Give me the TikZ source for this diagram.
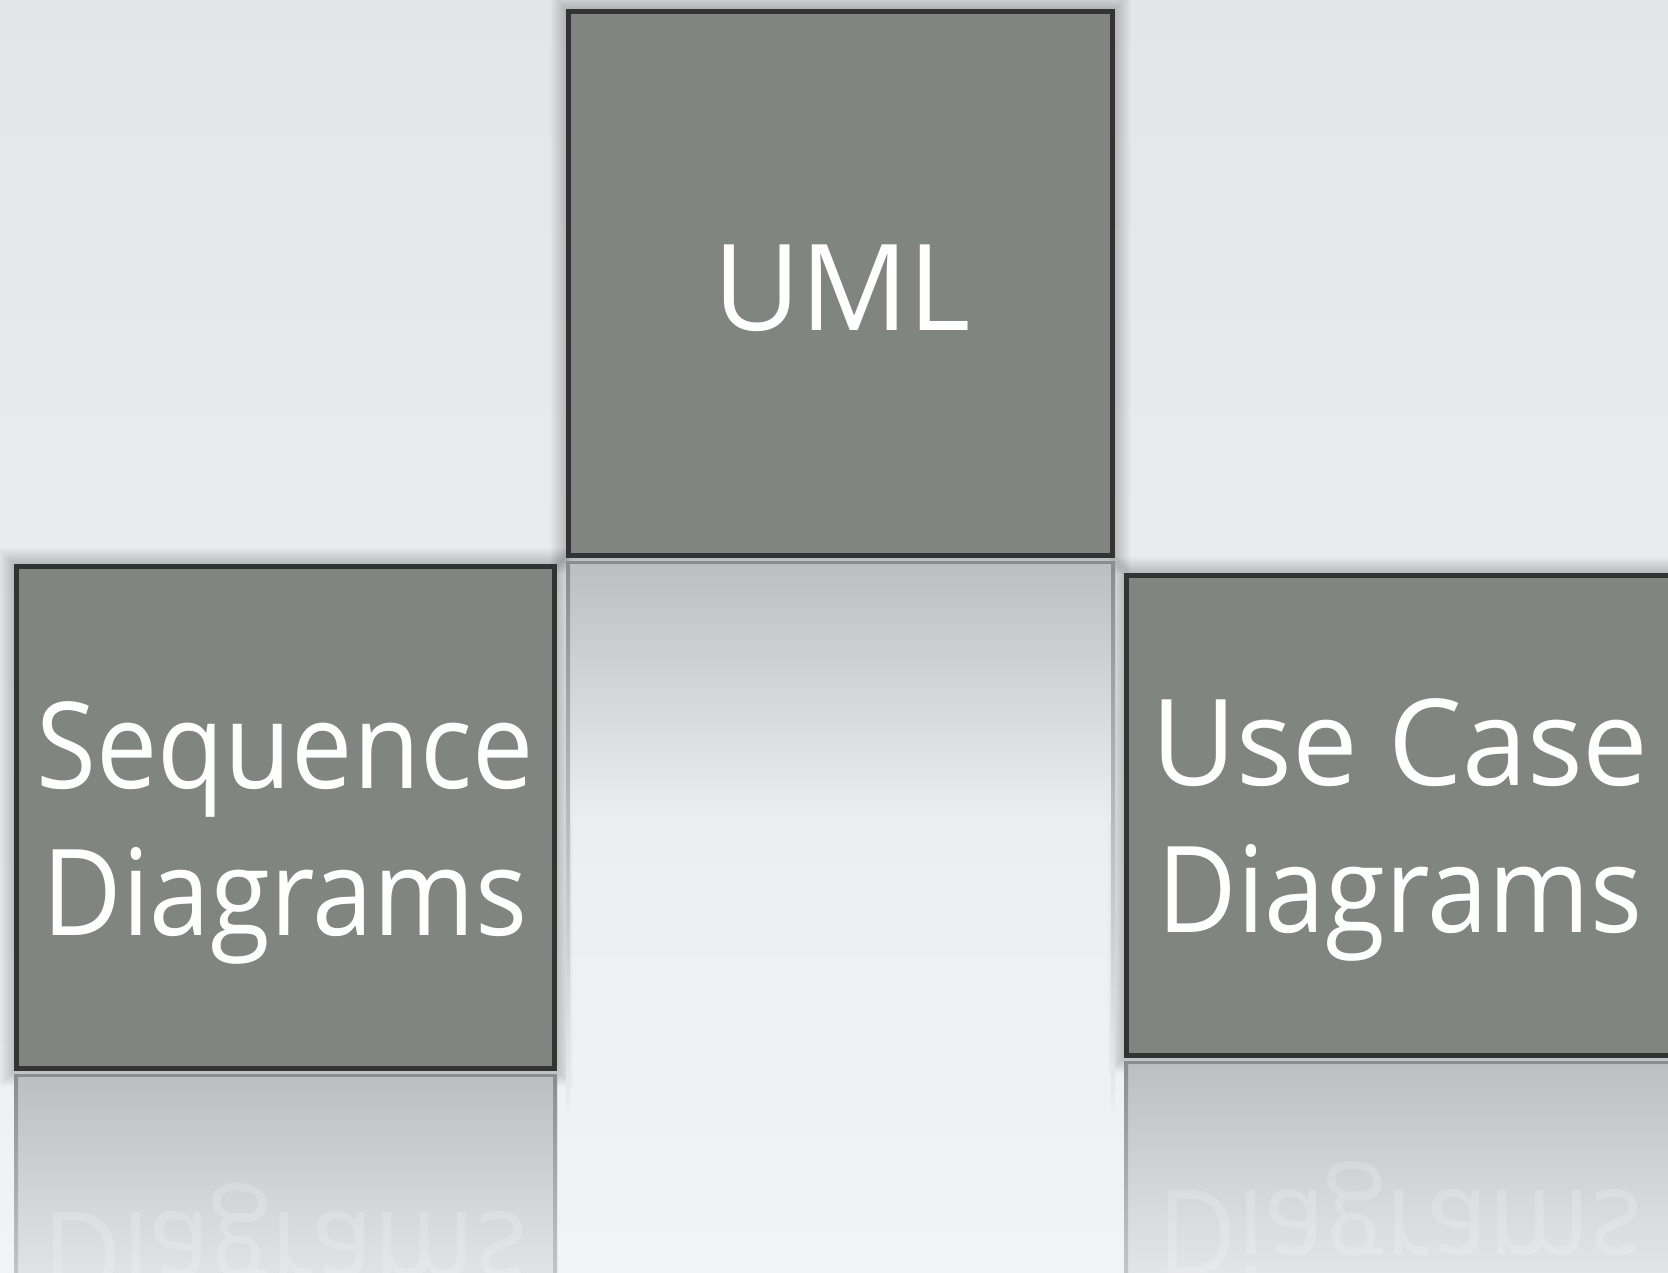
\documentclass[tikz,border=0pt]{standalone}
\usepackage{fontspec}
\setmainfont{Open Sans}[FakeStretch=0.91]
\newfontfamily\umlfont{Open Sans}
\newfontfamily\widefont{Open Sans}[FakeStretch=0.975]
\definecolor{bgtop}{HTML}{E3E5E8}
\definecolor{bgbot}{HTML}{F2F3F5}
\definecolor{boxfill}{HTML}{808582}
\definecolor{boxline}{HTML}{333333}
\definecolor{refltop}{HTML}{BCBFC1}
\definecolor{reflbot}{HTML}{ECEDEF}
\definecolor{refledge}{HTML}{8A8D8F}
\newcommand\cardhalo[4]{%
  \foreach \k in {1,...,16}{\fill[black, opacity=0.012] (#1-\k,#2-\k) rectangle (#3+\k,#4+\k);}}
\tikzset{
  card/.style={draw=boxline, line width=5pt, fill=boxfill, inner sep=0pt},
  cardtext/.style={text=white, font=\fontsize{120}{147}\selectfont, align=center, inner sep=0pt},
  mirrortext/.style={text=white, opacity=0.18, font=\fontsize{120}{147}\selectfont, inner sep=0pt, anchor=base},
  reflfill/.style={top color=refltop, bottom color=reflbot},
  refledgefill/.style={top color=refledge, bottom color=reflbot},
}
\begin{document}
\begin{tikzpicture}[x=1pt, y=-1pt]
\clip (0,0) rectangle (1668,1272);
\shade[top color=bgtop, bottom color=bgbot] (0,0) rectangle (1668,1272);

% soft shadows
\cardhalo{566}{9}{1115}{558}
\cardhalo{14}{564}{557}{1071}
\cardhalo{1124}{573}{1690}{1058}

% reflections
\shade[reflfill] (566,562) rectangle (1115,820);
\shade[refledgefill] (566,562) rectangle (570,1110);
\shade[refledgefill] (1111,562) rectangle (1115,1110);
\fill[refledge] (566,561) rectangle (1115,564);

\shade[reflfill] (14,1075) rectangle (557,1333);
\shade[refledgefill] (14,1075) rectangle (18,1420);
\shade[refledgefill] (553,1075) rectangle (557,1420);
\fill[refledge] (14,1074) rectangle (557,1077);

\shade[reflfill] (1124,1062) rectangle (1690,1320);
\shade[refledgefill] (1124,1062) rectangle (1128,1420);
\fill[refledge] (1124,1061) rectangle (1690,1064);

\begin{scope}
\clip (18,1077) rectangle (553,1272);
\node[mirrortext] (seqrefl) at (285,1212) {\scalebox{1}[-1]{Diagrams}};
\end{scope}
\begin{scope}
\clip (1128,1064) rectangle (1690,1272);
\node[mirrortext] (ucrefl) at (1400,1190) {\scalebox{1}[-1]{Diagrams}};
\end{scope}

% boxes
\node[card, minimum width=544pt, minimum height=544pt] (uml) at (840.5,283.5) {};
\node[card, minimum width=538pt, minimum height=502pt] (seq) at (285.5,817.5) {};
\node[card, minimum width=552pt, minimum height=480pt] (uc) at (1402.25,815.5) {};

\node[cardtext, font=\umlfont\fontsize{120}{147}\selectfont] (umltxt) at (842,288) {UML};
\node[cardtext] (seqtxt) at (285,832.5) {Sequence\\Diagrams};
\node[cardtext] (uctxt) at (1400,830) {{\widefont Use Case}\\Diagrams};
\end{tikzpicture}
\end{document}
